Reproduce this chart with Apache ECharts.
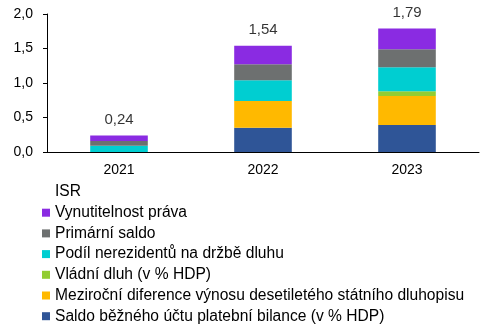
<!DOCTYPE html>
<html><head><meta charset="utf-8">
<script src="https://cdn.jsdelivr.net/npm/echarts@6/dist/echarts.min.js"></script>
<style>html,body{margin:0;padding:0;background:#fff}#c{width:494px;height:327px}</style>
</head><body><div id="c"></div>
<script>
const categories = ['2021', '2022', '2023'];
const saldoBU = [0, 0.35, 0.39];
const mezirocniDiference = [0, 0.39, 0.42];
const vladniDluh = [0, 0, 0.07];
const podilNerezidentu = [0.09, 0.30, 0.35];
const primarniSaldo = [0.07, 0.23, 0.26];
const vynutitelnost = [0.08, 0.27, 0.30];
const isrTotals = [0.24, 1.54, 1.79];
const yTicks = [0, 0.5, 1.0, 1.5, 2.0];

const names = {
  bu: 'Saldo běžného účtu platební bilance (v % HDP)',
  mez: 'Meziroční diference výnosu desetiletého státního dluhopisu',
  vd: 'Vládní dluh (v % HDP)',
  pn: 'Podíl nerezidentů na držbě dluhu',
  ps: 'Primární saldo',
  vp: 'Vynutitelnost práva'
};
const font = 'Liberation Sans, Arial, sans-serif';
function bar(name, data, color) {
  return { name, type: 'bar', stack: 'isr', data, barWidth: '40%', itemStyle: { color }, emphasis: { disabled: true } };
}
const chart = echarts.init(document.getElementById('c'), null, { renderer: 'canvas' });
chart.setOption({
  animation: false,
  textStyle: { fontFamily: font },
  grid: { left: 47, right: 15, top: 14, bottom: 175, containLabel: false },
  xAxis: {
    type: 'category', data: categories,
    axisLine: { lineStyle: { color: '#000', width: 1 } },
    axisTick: { show: false },
    axisLabel: { color: '#000', fontSize: 14, fontFamily: font, margin: 11 }
  },
  yAxis: {
    type: 'value', min: yTicks[0], max: yTicks[yTicks.length - 1], interval: 0.5,
    splitLine: { show: false },
    axisLine: { show: true, lineStyle: { color: '#000', width: 1 } },
    axisTick: { show: true, length: 4, lineStyle: { color: '#000' } },
    axisLabel: { color: '#000', fontSize: 14, fontFamily: font, margin: 14,
      formatter: v => v.toFixed(1).replace('.', ',') }
  },
  legend: {
    orient: 'vertical', left: 37, top: 179, height: 150,
    itemWidth: 8, itemHeight: 8, itemGap: 4.7,
    icon: 'rect',
    textStyle: { color: '#000', fontSize: 15.6, fontFamily: font, lineHeight: 16 },
    data: [
      { name: 'ISR', itemStyle: { color: 'rgba(0,0,0,0)' } },
      names.vp, names.ps, names.pn, names.vd, names.mez, names.bu
    ],
    selectedMode: false
  },
  series: [
    bar(names.bu, saldoBU, '#2F5597'),
    bar(names.mez, mezirocniDiference, '#FFB900'),
    bar(names.vd, vladniDluh, '#92CD32'),
    bar(names.pn, podilNerezidentu, '#00CED1'),
    bar(names.ps, primarniSaldo, '#6D7070'),
    bar(names.vp, vynutitelnost, '#8A2BE2'),
    {
      name: 'ISR', type: 'scatter', data: isrTotals, symbolSize: 0,
      itemStyle: { color: 'rgba(0,0,0,0)' },
      label: { show: true, position: 'top', distance: 8, color: '#000', fontSize: 15, fontFamily: font,
        formatter: p => p.value.toFixed(2).replace('.', ',') },
      emphasis: { disabled: true }, silent: true
    }
  ]
});
</script></body></html>
